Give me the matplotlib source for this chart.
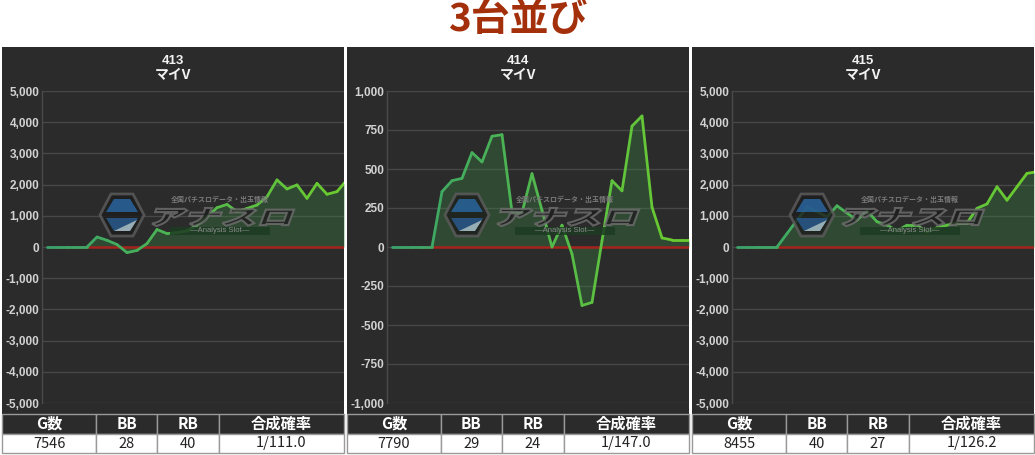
import numpy as np
import matplotlib.pyplot as plt
from matplotlib.patches import Rectangle, Polygon, PathPatch
from matplotlib.collections import LineCollection
from matplotlib.colors import LinearSegmentedColormap
from matplotlib.textpath import TextPath
from matplotlib.font_manager import FontProperties
from matplotlib.transforms import Affine2D

plt.rcParams['font.family'] = ['Noto Sans CJK JP', 'DejaVu Sans']

# data
title = '3台並び'
machines = ['413', '414', '415']
model = 'マイV'
y_max = [5000, 1000, 5000]
y_step = [1000, 250, 1000]

diff_413 = [0, 0, 0, 0, 0, 320, 215, 80, -180, -110, 110, 560, 430, 460, 515, 700,
            970, 1260, 1365, 1130, 1235, 1345, 1610, 2150, 1860, 1990, 1560, 2040,
            1690, 1775, 2150]
diff_414 = [0, 0, 0, 0, 0, 355, 425, 440, 605, 545, 710, 720, 225, 220, 470, 235,
            0, 140, -45, -375, -355, 40, 425, 360, 775, 840, 255, 58, 45, 45, 45]
diff_415 = [0, 0, 0, 0, 0, 430, 860, 1280, 1130, 970, 1320, 1090, 860, 1160, 810,
            700, 520, 700, 700, 480, 620, 700, 770, 770, 1240, 1380, 1930, 1500,
            1930, 2360, 2410]
series = [diff_413, diff_414, diff_415]

headers = ['G数', 'BB', 'RB', '合成確率']
games = [7546, 7790, 8455]
bb = [28, 29, 40]
rb = [40, 24, 27]
rate = ['1/111.0', '1/147.0', '1/126.2']

W, H = 1035, 455
BG = '#2b2b2b'
panel_x = [2, 347, 692]
panel_w = 342
col_edges = [0, 94, 155, 217, 342]


def px(x0, y0, x1, y1):
    return [x0 / W, 1 - y1 / H, (x1 - x0) / W, (y1 - y0) / H]


fig = plt.figure(figsize=(W / 100, H / 100), dpi=100, facecolor='white')

# background layer
bg = fig.add_axes([0, 0, 1, 1], zorder=0)
bg.set_xlim(0, W)
bg.set_ylim(H, 0)
bg.axis('off')
for x0 in panel_x:
    bg.add_patch(Rectangle((x0, 47), panel_w, 367, facecolor=BG, edgecolor='none'))

cmap = LinearSegmentedColormap.from_list('g', ['#38a46c', '#6ccc2e'])
tick_font = FontProperties(family='Liberation Sans', weight='bold', size=8.5)

for i, x0 in enumerate(panel_x):
    vals = np.array(series[i], dtype=float)
    xs = np.arange(len(vals))
    ax = fig.add_axes(px(x0 + 40, 91, x0 + panel_w, 403), zorder=1)
    ax.set_facecolor('none')
    ax.set_xlim(-0.5, 29.7)
    ax.set_ylim(-y_max[i], y_max[i])
    ticks = np.arange(-y_max[i], y_max[i] + 1, y_step[i])
    ax.set_yticks(ticks)
    ax.set_yticklabels([f'{int(t):,}' for t in ticks], fontproperties=tick_font, color='#d2d2d2')
    ax.set_xticks([])
    ax.tick_params(axis='y', length=0, pad=2)
    ax.grid(axis='y', color='#474747', lw=1)
    ax.set_axisbelow(True)
    for s in ['top', 'right', 'bottom']:
        ax.spines[s].set_visible(False)
    ax.spines['left'].set_color('#4a4a4a')
    ax.spines['left'].set_linewidth(1)

    ax.fill_between(xs, vals, 0, color='#3d8f45', alpha=0.3, lw=0, zorder=2)
    ax.hlines(0, 0, len(vals) - 1, color='#a5231c', lw=1.8, zorder=3)
    pts = np.column_stack([xs, vals]).reshape(-1, 1, 2)
    segs = np.concatenate([pts[:-1], pts[1:]], axis=1)
    lc = LineCollection(segs, colors=cmap(np.linspace(0, 1, len(segs))), lw=2.0,
                        capstyle='round', joinstyle='round', zorder=4)
    ax.add_collection(lc)

# overlay: titles, logo watermark, table
ov = fig.add_axes([0, 0, 1, 1], zorder=2)
ov.set_xlim(0, W)
ov.set_ylim(H, 0)
ov.axis('off')
ov.patch.set_alpha(0)

ov.text(W / 2, 20, title, ha='center', va='center', fontsize=28, fontweight='bold',
        color='#a3300b')

logo_font = FontProperties(family='Noto Sans CJK JP', weight='black')
tp = TextPath((0, 0), 'アナスロ', size=20, prop=logo_font)
tb = tp.get_extents()

for i, x0 in enumerate(panel_x):
    cx = x0 + panel_w / 2
    ov.text(cx, 61, machines[i], ha='center', va='center', fontsize=9.5,
            fontweight='bold', color='#f2f2f2', family=['Liberation Sans', 'DejaVu Sans'])
    ov.text(cx, 75, model, ha='center', va='center', fontsize=10, fontweight='bold',
            color='#f2f2f2')

    # watermark logo
    hx, hy = x0 + 120, 215
    hexv = [(hx - 22, hy), (hx - 11, hy - 21), (hx + 11, hy - 21), (hx + 22, hy),
            (hx + 11, hy + 21), (hx - 11, hy + 21)]
    ov.add_patch(Polygon(hexv, closed=True, facecolor='#1c1c1c', edgecolor='#5e5e5e',
                         lw=2, alpha=0.8))
    ov.add_patch(Polygon([(hx - 16, hy - 3), (hx - 8, hy - 16), (hx + 8, hy - 16), (hx + 16, hy - 3)],
                         closed=True, facecolor='#2a6aa6', edgecolor='none', alpha=0.8))
    ov.add_patch(Polygon([(hx - 16, hy + 3), (hx + 16, hy + 3), (hx + 8, hy + 16), (hx - 8, hy + 16)],
                         closed=True, facecolor='#2a5d92', edgecolor='none', alpha=0.8))
    ov.add_patch(Polygon([(hx - 8, hy + 16), (hx + 15, hy + 5), (hx + 8, hy + 16)],
                         closed=True, facecolor='#c9d6cf', edgecolor='none', alpha=0.7))
    sx = 138 / tb.width
    sy = 18 / tb.height
    tr = (Affine2D().translate(-tb.x0, -tb.y0).skew_deg(12, 0).scale(sx, -sy)
          .translate(x0 + 148, 226))
    ov.add_patch(PathPatch(tr.transform_path(tp), facecolor='#1e1e1e', edgecolor='#707070',
                           lw=1.5, alpha=0.8))
    ov.text(x0 + 218, 199, '全国パチスロデータ・出玉情報', ha='center', va='center',
            fontsize=5, fontweight='bold', color='#7a7a7a')
    ov.add_patch(Rectangle((x0 + 168, 227), 100, 8, facecolor='#1d3b22', edgecolor='none',
                           alpha=0.85))
    ov.text(x0 + 218, 231, '—Analysis Slot—', ha='center', va='center', fontsize=5.5,
            color='#8c8c8c', family=['Liberation Sans', 'DejaVu Sans'])

    # table
    row_vals = [str(games[i]), str(bb[i]), str(rb[i]), rate[i]]
    for c in range(4):
        a, b = x0 + col_edges[c], x0 + col_edges[c + 1]
        ov.add_patch(Rectangle((a, 414), b - a, 20, facecolor=BG, edgecolor='#9a9a9a', lw=1))
        ov.add_patch(Rectangle((a, 434), b - a, 19, facecolor='white', edgecolor='#9a9a9a', lw=1))
        ov.text((a + b) / 2, 424, headers[c], ha='center', va='center', fontsize=11,
                fontweight='bold', color='white')
        ov.text((a + b) / 2, 443.5, row_vals[c], ha='center', va='center', fontsize=10.5,
                color='#222222')

fig.savefig('out.png', dpi=100, facecolor='white')
